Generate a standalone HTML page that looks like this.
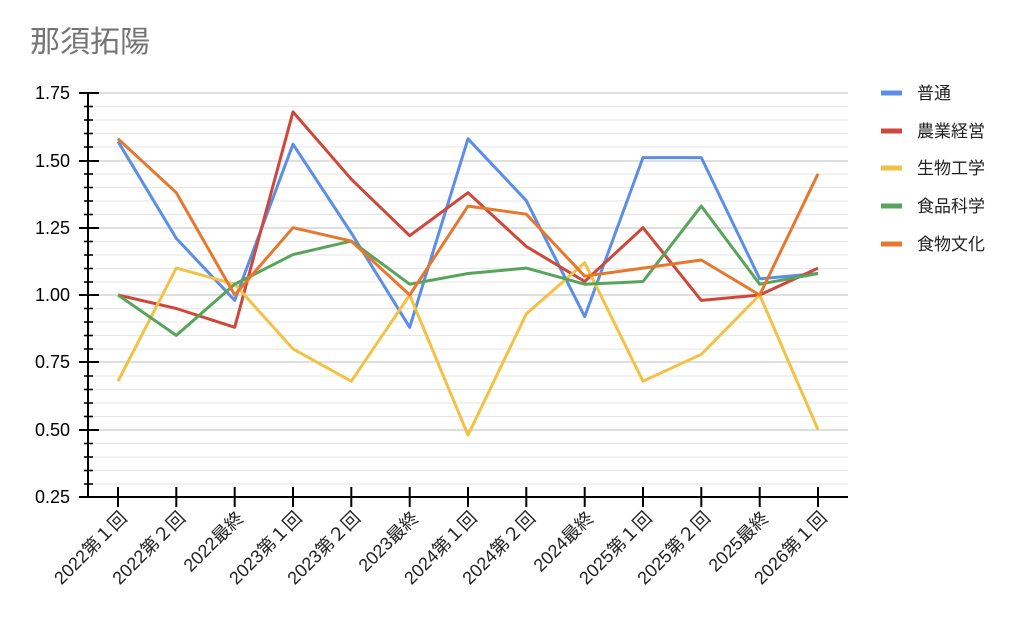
<!DOCTYPE html>
<html><head><meta charset="utf-8"><style>
body{margin:0;background:#fff;}
svg{display:block;font-family:"Liberation Sans","Noto Sans CJK JP",sans-serif;}
</style></head><body>
<svg width="1024" height="626" viewBox="0 0 1024 626">
<text x="30" y="52" font-size="30" fill="#757575">那須拓陽</text>
<g stroke="#e6e6e6" stroke-width="1">
<line x1="88" x2="848" y1="106.5" y2="106.5"/><line x1="88" x2="848" y1="120" y2="120"/><line x1="88" x2="848" y1="133.5" y2="133.5"/><line x1="88" x2="848" y1="147" y2="147"/>
<line x1="88" x2="848" y1="174" y2="174"/><line x1="88" x2="848" y1="187.5" y2="187.5"/><line x1="88" x2="848" y1="201" y2="201"/><line x1="88" x2="848" y1="214.5" y2="214.5"/>
<line x1="88" x2="848" y1="241.5" y2="241.5"/><line x1="88" x2="848" y1="255" y2="255"/><line x1="88" x2="848" y1="268.5" y2="268.5"/><line x1="88" x2="848" y1="282" y2="282"/>
<line x1="88" x2="848" y1="308.5" y2="308.5"/><line x1="88" x2="848" y1="322" y2="322"/><line x1="88" x2="848" y1="335.5" y2="335.5"/><line x1="88" x2="848" y1="349" y2="349"/>
<line x1="88" x2="848" y1="376" y2="376"/><line x1="88" x2="848" y1="389.5" y2="389.5"/><line x1="88" x2="848" y1="403" y2="403"/><line x1="88" x2="848" y1="416.5" y2="416.5"/>
<line x1="88" x2="848" y1="443.5" y2="443.5"/><line x1="88" x2="848" y1="457" y2="457"/><line x1="88" x2="848" y1="470.5" y2="470.5"/><line x1="88" x2="848" y1="484" y2="484"/>
</g>
<g stroke="#cccccc" stroke-width="1.2">
<line x1="88" x2="848" y1="93" y2="93"/><line x1="88" x2="848" y1="161" y2="161"/><line x1="88" x2="848" y1="228" y2="228"/><line x1="88" x2="848" y1="295" y2="295"/><line x1="88" x2="848" y1="362" y2="362"/><line x1="88" x2="848" y1="430" y2="430"/>
</g>
<g stroke="#000" stroke-width="2">
<line x1="88" y1="93" x2="88" y2="498"/>
<line x1="87" y1="497" x2="848" y2="497"/>
<line x1="79" x2="99" y1="93" y2="93"/><line x1="79" x2="99" y1="161" y2="161"/><line x1="79" x2="99" y1="228" y2="228"/><line x1="79" x2="99" y1="295" y2="295"/><line x1="79" x2="99" y1="362" y2="362"/><line x1="79" x2="99" y1="430" y2="430"/><line x1="79" x2="88" y1="497" y2="497"/>
</g>
<g stroke="#000" stroke-width="1.6">
<line x1="84" x2="93" y1="106.5" y2="106.5"/><line x1="84" x2="93" y1="120" y2="120"/><line x1="84" x2="93" y1="133.5" y2="133.5"/><line x1="84" x2="93" y1="147" y2="147"/>
<line x1="84" x2="93" y1="174" y2="174"/><line x1="84" x2="93" y1="187.5" y2="187.5"/><line x1="84" x2="93" y1="201" y2="201"/><line x1="84" x2="93" y1="214.5" y2="214.5"/>
<line x1="84" x2="93" y1="241.5" y2="241.5"/><line x1="84" x2="93" y1="255" y2="255"/><line x1="84" x2="93" y1="268.5" y2="268.5"/><line x1="84" x2="93" y1="282" y2="282"/>
<line x1="84" x2="93" y1="308.5" y2="308.5"/><line x1="84" x2="93" y1="322" y2="322"/><line x1="84" x2="93" y1="335.5" y2="335.5"/><line x1="84" x2="93" y1="349" y2="349"/>
<line x1="84" x2="93" y1="376" y2="376"/><line x1="84" x2="93" y1="389.5" y2="389.5"/><line x1="84" x2="93" y1="403" y2="403"/><line x1="84" x2="93" y1="416.5" y2="416.5"/>
<line x1="84" x2="93" y1="443.5" y2="443.5"/><line x1="84" x2="93" y1="457" y2="457"/><line x1="84" x2="93" y1="470.5" y2="470.5"/><line x1="84" x2="93" y1="484" y2="484"/>
</g>
<g stroke="#000" stroke-width="2">
<line x1="118" x2="118" y1="487" y2="507"/><line x1="176.3" x2="176.3" y1="487" y2="507"/><line x1="234.7" x2="234.7" y1="487" y2="507"/><line x1="293" x2="293" y1="487" y2="507"/><line x1="351.3" x2="351.3" y1="487" y2="507"/><line x1="409.7" x2="409.7" y1="487" y2="507"/><line x1="468" x2="468" y1="487" y2="507"/><line x1="526.3" x2="526.3" y1="487" y2="507"/><line x1="584.7" x2="584.7" y1="487" y2="507"/><line x1="643" x2="643" y1="487" y2="507"/><line x1="701.3" x2="701.3" y1="487" y2="507"/><line x1="759.7" x2="759.7" y1="487" y2="507"/><line x1="818" x2="818" y1="487" y2="507"/>
</g>
<g font-size="18" fill="#000" text-anchor="end">
<text x="70" y="99">1.75</text><text x="70" y="167">1.50</text><text x="70" y="234">1.25</text><text x="70" y="301">1.00</text><text x="70" y="368">0.75</text><text x="70" y="436">0.50</text><text x="70" y="503">0.25</text>
</g>
<g font-size="18" fill="#222" text-anchor="end">
<text transform="translate(128,519) rotate(-45)">2022第１回</text>
<text transform="translate(186.3,519) rotate(-45)">2022第２回</text>
<text transform="translate(244.7,519) rotate(-45)">2022最終</text>
<text transform="translate(303,519) rotate(-45)">2023第１回</text>
<text transform="translate(361.3,519) rotate(-45)">2023第２回</text>
<text transform="translate(419.7,519) rotate(-45)">2023最終</text>
<text transform="translate(478,519) rotate(-45)">2024第１回</text>
<text transform="translate(536.3,519) rotate(-45)">2024第２回</text>
<text transform="translate(594.7,519) rotate(-45)">2024最終</text>
<text transform="translate(653,519) rotate(-45)">2025第１回</text>
<text transform="translate(711.3,519) rotate(-45)">2025第２回</text>
<text transform="translate(769.7,519) rotate(-45)">2025最終</text>
<text transform="translate(828,519) rotate(-45)">2026第１回</text>
</g>
<g fill="none" stroke-width="3" stroke-linejoin="round">
<polyline stroke="#5b8ee6" points="118,141.5 176.3,238.4 234.7,300.4 293,144.2 351.3,233 409.7,327.3 468,138.8 526.3,200.7 584.7,316.6 643,157.6 701.3,157.6 759.7,278.8 818,273.5"/>
<polyline stroke="#d0473a" points="118,295 176.3,308.5 234.7,327.3 293,111.9 351.3,179.2 409.7,235.7 468,192.7 526.3,246.5 584.7,281.5 643,227.7 701.3,300.4 759.7,295 818,268.1"/>
<polyline stroke="#f3c244" points="118,381.2 176.3,268.1 234.7,284.2 293,348.9 351.3,381.2 409.7,295 468,435.1 526.3,313.9 584.7,262.7 643,381.2 701.3,354.3 759.7,295 818,429.7"/>
<polyline stroke="#57a55a" points="118,295 176.3,335.4 234.7,284.2 293,254.6 351.3,241.1 409.7,284.2 468,273.5 526.3,268.1 584.7,284.2 643,281.5 701.3,206.1 759.7,284.2 818,273.5"/>
<polyline stroke="#e8772e" points="118,138.8 176.3,192.7 234.7,295 293,227.7 351.3,241.1 409.7,295 468,206.1 526.3,214.2 584.7,276.2 643,268.1 701.3,260 759.7,295 818,173.8"/>
</g>
<g stroke-width="5">
<line x1="881" x2="902" y1="93" y2="93" stroke="#5b8ee6"/>
<line x1="881" x2="902" y1="131" y2="131" stroke="#d0473a"/>
<line x1="881" x2="902" y1="168" y2="168" stroke="#f3c244"/>
<line x1="881" x2="902" y1="206" y2="206" stroke="#57a55a"/>
<line x1="881" x2="902" y1="244" y2="244" stroke="#e8772e"/>
</g>
<g font-size="17" fill="#222">
<text x="917" y="99">普通</text>
<text x="917" y="137">農業経営</text>
<text x="917" y="174">生物工学</text>
<text x="917" y="212">食品科学</text>
<text x="917" y="250">食物文化</text>
</g>
</svg>
</body></html>
